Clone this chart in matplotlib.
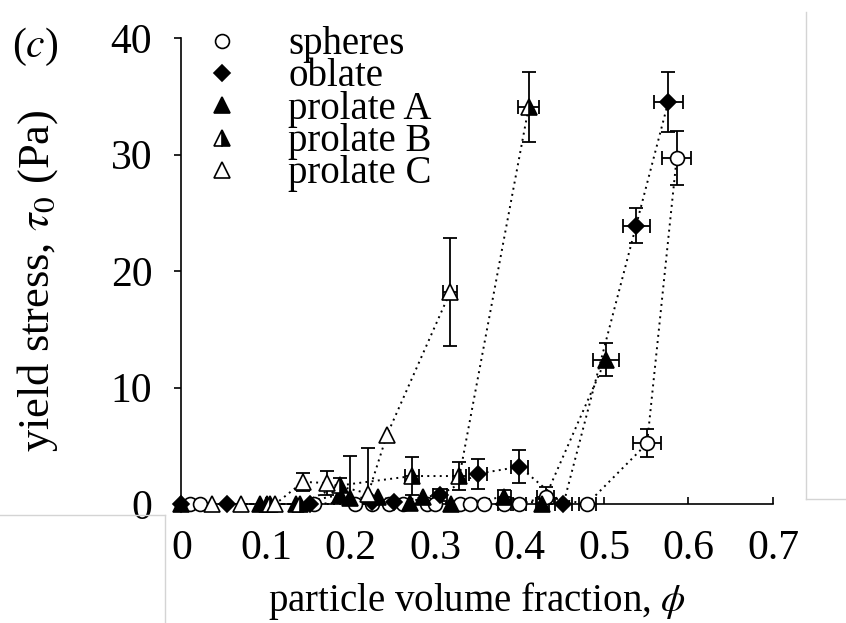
import matplotlib
matplotlib.use("Agg")
import matplotlib.pyplot as plt
from matplotlib.lines import Line2D
import numpy as np

plt.rcParams['font.family'] = ['Liberation Serif', 'DejaVu Serif']
plt.rcParams['mathtext.fontset'] = 'stix'

# spheres (open circles)
sph_phi = [0.010, 0.022, 0.157, 0.205, 0.225, 0.245, 0.262, 0.290, 0.300, 0.330,
           0.341, 0.358, 0.382, 0.400, 0.431, 0.480, 0.551, 0.586]
sph_tau = [0, 0, 0, 0, 0, 0, 0, 0, 0, 0, 0, 0, 0, 0, 0.6, 0, 5.2, 29.7]
sph_yerr = [0, 0, 0, 0, 0, 0, 0, 0, 0, 0, 0, 0, 0, 0, 0.9, 0, 1.2, 2.3]
sph_xerr = [0, 0, 0, 0, 0, 0, 0, 0, 0, 0, 0, 0, 0.008, 0.008, 0.01, 0.01, 0.017, 0.017]

# oblate (filled diamonds)
obl_phi = [0.0, 0.054, 0.152, 0.225, 0.252, 0.306, 0.351, 0.400, 0.452, 0.538, 0.576]
obl_tau = [0, 0, 0, 0.2, 0.2, 0.8, 2.6, 3.2, 0, 23.9, 34.5]
obl_yerr = [0, 0, 0, 0, 0, 0.5, 1.3, 1.4, 0, 1.5, 2.6]
obl_xerr = [0, 0, 0, 0, 0, 0.008, 0.011, 0.010, 0.010, 0.016, 0.017]

# prolate A (filled triangles)
pa_phi = [0.0, 0.093, 0.101, 0.135, 0.188, 0.200, 0.233, 0.270, 0.286, 0.319,
          0.382, 0.427, 0.502]
pa_tau = [0, 0, 0, 0, 0.8, 0.5, 0.6, 0.1, 0.6, 0, 0.6, 0, 12.4]
pa_yerr = [0, 0, 0, 0, 0, 3.6, 0, 0, 0, 0, 0.6, 0, 1.4]
pa_xerr = [0, 0, 0, 0, 0, 0, 0, 0, 0, 0, 0.008, 0.008, 0.0155]

# prolate B (half filled triangles)
pb_phi = [0.105, 0.140, 0.188, 0.273, 0.329, 0.411]
pb_tau = [0, 0, 1.6, 2.4, 2.4, 34.1]
pb_yerr = [0, 0, 0.6, 1.6, 1.2, 3.0]
pb_xerr = [0, 0, 0, 0.008, 0.008, 0.0125]

# prolate C (open triangles)
pc_phi = [0.036, 0.071, 0.111, 0.144, 0.172, 0.221, 0.243, 0.318]
pc_tau = [0, 0, 0, 1.9, 1.8, 0.9, 5.9, 18.2]
pc_yerr = [0, 0, 0, 0.8, 1.0, 3.9, 0, 4.6]
pc_xerr = [0, 0, 0, 0, 0, 0, 0, 0.008]

labels = ['spheres', 'oblate', 'prolate A', 'prolate B', 'prolate C']

fig = plt.figure(figsize=(8.46, 6.23), dpi=100)
ax = fig.add_axes([0.2145, 0.191, 0.6992, 0.748])

styles = [
    dict(marker='o', ms=10, mfc='white'),
    dict(marker='D', ms=8.5, mfc='black'),
    dict(marker='^', ms=11, mfc='black'),
    dict(marker='^', ms=11, mfc='black', fillstyle='right', markerfacecoloralt='white'),
    dict(marker='^', ms=11, mfc='white'),
]
series = [
    (sph_phi, sph_tau, sph_yerr, sph_xerr),
    (obl_phi, obl_tau, obl_yerr, obl_xerr),
    (pa_phi, pa_tau, pa_yerr, pa_xerr),
    (pb_phi, pb_tau, pb_yerr, pb_xerr),
    (pc_phi, pc_tau, pc_yerr, pc_xerr),
]

for (phi, tau, ye, xe), st in zip(series, styles):
    phi = np.array(phi)
    tau = np.array(tau)
    ye = np.array(ye)
    xe = np.array(xe)
    # dotted connecting line
    ax.plot(phi, tau, color='k', lw=1.4, linestyle=(0, (1, 2.2)),
            clip_on=False, zorder=2)
    m = (ye > 0) | (xe > 0)
    # stress can't go below zero, so the lower bar stops at the axis
    lower = np.minimum(ye[m], tau[m])
    ax.errorbar(phi[m], tau[m], yerr=[lower, ye[m]], xerr=xe[m], fmt='none',
                ecolor='k', elinewidth=1.3, capsize=5, capthick=1.3,
                clip_on=False, zorder=3)
    ax.plot(phi, tau, linestyle='none', mec='k', mew=1.2, clip_on=False,
            zorder=4, **st)

ax.set_xlim(0, 0.7)
ax.set_ylim(0, 40)
ax.set_xticks(np.arange(0, 0.71, 0.1))
ax.set_xticklabels(['0', '0.1', '0.2', '0.3', '0.4', '0.5', '0.6', '0.7'])
ax.set_yticks([0, 10, 20, 30, 40])

for s in ['top', 'right']:
    ax.spines[s].set_visible(False)
for s in ['left', 'bottom']:
    ax.spines[s].set_linewidth(1.2)

ax.tick_params(axis='x', direction='in', length=5, width=1.2, labelsize=30, pad=18)
ax.tick_params(axis='y', direction='out', length=5, width=1.2, labelsize=30, pad=16)

ax.set_xlabel(r'particle volume fraction, $\phi$', fontsize=28, labelpad=9)
ax.set_ylabel(r'yield stress, $\tau_0$ (Pa)', fontsize=32)
ax.yaxis.set_label_coords(-0.205, 0.48)

handles = [Line2D([], [], linestyle='none', mec='k', mew=1.2, **st)
           for st in styles]
ax.legend(handles, labels, loc='upper left', bbox_to_anchor=(0.2394, 0.958),
          bbox_transform=fig.transFigure, frameon=False, fontsize=28,
          labelspacing=-0.12, handlelength=1.0, handletextpad=1.2,
          borderpad=0, borderaxespad=0)

fig.text(0.041, 0.925, r'($c$)', fontsize=30, ha='center', va='center')

# faint grey frame lines from the scanned page
grey = '#d4d4d4'
fig.add_artist(Line2D([806 / 846, 806 / 846], [1 - 12 / 623, 1 - 499 / 623],
                      color=grey, lw=1, transform=fig.transFigure))
fig.add_artist(Line2D([806 / 846, 1], [1 - 499 / 623, 1 - 499 / 623],
                      color=grey, lw=1, transform=fig.transFigure))
fig.add_artist(Line2D([0, 165 / 846], [1 - 515 / 623, 1 - 515 / 623],
                      color=grey, lw=1, transform=fig.transFigure))
fig.add_artist(Line2D([165 / 846, 165 / 846], [1 - 515 / 623, 0],
                      color=grey, lw=1, transform=fig.transFigure))

fig.savefig('out.png', dpi=100, facecolor='white')
